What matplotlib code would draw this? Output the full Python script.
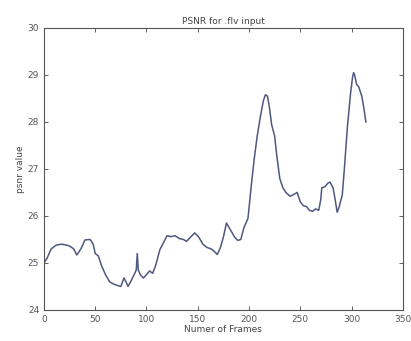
import matplotlib.pyplot as plt

# frame numbers and psnr values
frames = [0, 3, 7, 12, 17, 22, 25, 29, 32, 36, 40, 45, 48, 50, 53, 56, 60, 64, 68,
          72, 75, 78, 80, 82, 85, 89, 90, 91, 92, 94, 97, 100, 103, 106, 109, 113,
          117, 120, 124, 128, 132, 136, 139, 143, 147, 151, 155, 159, 163, 166,
          169, 172, 175, 178, 182, 186, 189, 192, 195, 199, 202, 205, 208, 211,
          214, 216, 218, 220, 222, 225, 227, 230, 233, 236, 240, 243, 247, 250,
          253, 256, 259, 262, 265, 268, 270, 271, 274, 277, 279, 282, 284, 286,
          288, 291, 293, 296, 299, 301, 302, 303, 305, 307, 310, 312, 314]
psnr = [25.0, 25.1, 25.3, 25.38, 25.4, 25.38, 25.36, 25.3, 25.17, 25.3, 25.49, 25.5,
        25.4, 25.2, 25.15, 24.95, 24.75, 24.6, 24.55, 24.52, 24.5, 24.68, 24.6,
        24.5, 24.62, 24.8, 24.85, 25.2, 24.85, 24.75, 24.68, 24.75, 24.83, 24.78,
        24.95, 25.28, 25.45, 25.58, 25.56, 25.58, 25.52, 25.5, 25.46, 25.55, 25.64,
        25.55, 25.4, 25.33, 25.3, 25.25, 25.18, 25.32, 25.55, 25.85, 25.7, 25.55,
        25.48, 25.5, 25.75, 25.95, 26.6, 27.2, 27.7, 28.1, 28.45, 28.58, 28.55,
        28.3, 27.95, 27.7, 27.3, 26.8, 26.6, 26.5, 26.42, 26.45, 26.5, 26.3,
        26.22, 26.2, 26.12, 26.1, 26.15, 26.12, 26.35, 26.6, 26.62, 26.7, 26.72,
        26.6, 26.35, 26.08, 26.2, 26.45, 27.0, 27.9, 28.6, 28.95, 29.05, 29.0,
        28.8, 28.75, 28.55, 28.3, 28.0]

plt.figure(figsize=(4.11, 3.41), dpi=100)
ax = plt.axes([0.107, 0.091, 0.873, 0.827])

ax.plot(frames, psnr, color='#4e5880', linewidth=1.1)

ax.set_xlim(0, 350)
ax.set_ylim(24, 30)
ax.set_xticks(range(0, 351, 50))
ax.set_yticks(range(24, 31))
ax.tick_params(direction='in', top=True, right=True, labelsize=6.5,
               length=3, width=0.6, colors='#444444', labelcolor='#555555')
for s in ax.spines.values():
    s.set_linewidth(0.8)
    s.set_color('#555555')

ax.set_title('PSNR for .flv input', fontsize=6.5, color='#444444', pad=3)
ax.set_xlabel('Numer of Frames', fontsize=6.5, color='#444444', labelpad=1)
ax.set_ylabel('psnr value', fontsize=6.5, color='#444444', labelpad=2)

plt.savefig('out.png', dpi=100)
plt.close()
